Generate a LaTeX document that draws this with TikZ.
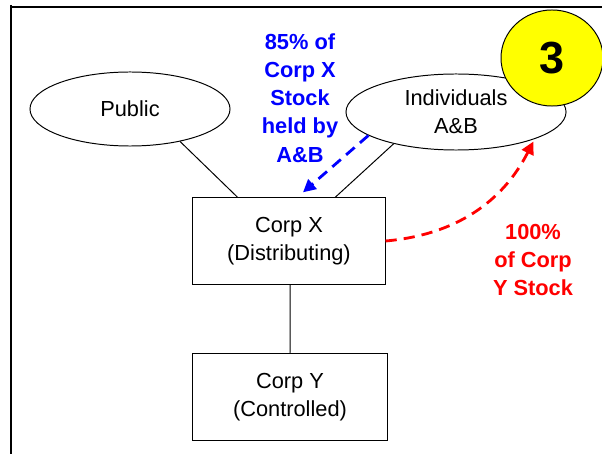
\documentclass[tikz,border=0pt]{standalone}
\usepackage{fontspec}
\setmainfont{Liberation Sans}
\usepackage{tikz}
\usetikzlibrary{arrows.meta,shapes,positioning}
\usepackage{xcolor}
\definecolor{sharesblue}{RGB}{0,0,255}
\definecolor{sharesred}{RGB}{255,0,0}
\definecolor{stepyellow}{RGB}{255,255,0}
\tikzstyle{holder} = [ellipse, draw, line width=0.7pt, minimum width=5cm, minimum height=1.85cm, align=center, font=\fontsize{15.5}{20}\selectfont]
\tikzstyle{corp} = [rectangle, draw, line width=0.7pt, minimum width=4.8cm, minimum height=2.15cm, align=center, font=\fontsize{15.5}{20}\selectfont]
\tikzstyle{link} = [line width=0.7pt]
\tikzstyle{share} = [line width=2pt, dash pattern=on 8pt off 5pt, -{Triangle[length=9pt,width=9pt]}]
\tikzstyle{sharetext} = [align=center, font=\fontsize{15.5}{20}\selectfont\bfseries]

\begin{document}
\begin{tikzpicture}[x=0.025cm, y=0.025cm]
\useasboundingbox (0,0) rectangle (602,454);
\draw[line width=2pt] (10,447) -- (602,447);
\draw[line width=2pt] (11,449) -- (11,0);

\node[holder] (pub) at (130,345) {Public};
\node[holder, minimum width=5.5cm, minimum height=1.9cm] (ind) at (456,342) {Individuals\\A\&B};
\node[ellipse, draw, line width=0.7pt, fill=stepyellow, minimum width=2.55cm, minimum height=2.4cm, font=\fontsize{32}{38}\selectfont\bfseries] (three) at (552,396) {3};

\node[corp] (corpx) at (289,213) {Corp X\\(Distributing)};
\node[corp, minimum width=4.88cm, minimum height=2.18cm] (corpy) at (290,57) {Corp Y\\(Controlled)};

\draw[link] (pub.-33) -- ([xshift=-1.28cm]corpx.north);
\draw[link] (ind.207) -- ([xshift=1.15cm]corpx.north);
\draw[link] ([xshift=0.03cm]corpx.south) -- (corpy.north);

% share flows
\draw[share, sharesblue] (ind.195) -- ([xshift=0.35cm,yshift=0.13cm]corpx.north);
\draw[share, sharesred, shorten >=2pt] (corpx.east) to[out=5,in=-117] (ind.-19);

\node[sharetext, sharesblue] (xstock) at (300,356) {85\% of\\Corp X\\Stock\\held by\\A\&B};
\node[sharetext, sharesred] (ystock) at (533,194) {100\%\\of Corp\\Y Stock};
\end{tikzpicture}
\end{document}
